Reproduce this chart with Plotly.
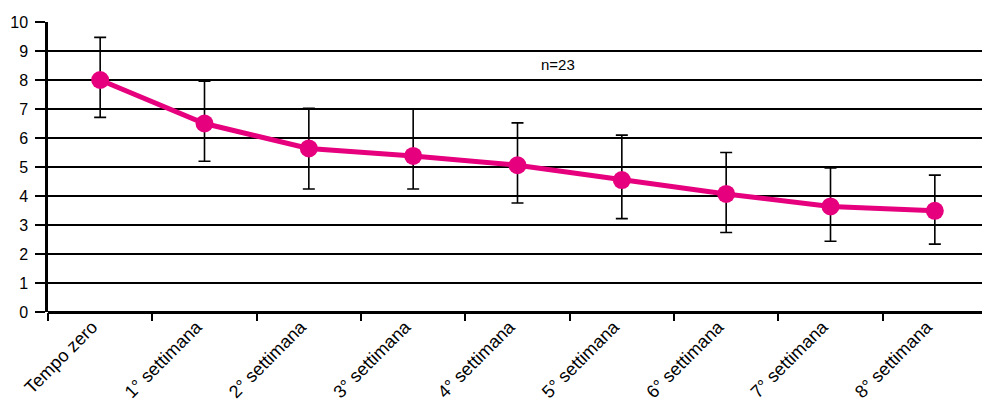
import plotly.graph_objects as go

categories = ["Tempo zero", "1° settimana", "2° settimana", "3° settimana", "4° settimana",
              "5° settimana", "6° settimana", "7° settimana", "8° settimana"]
means = [8.0, 6.5, 5.64, 5.38, 5.06, 4.55, 4.07, 3.64, 3.49]
upper = [9.47, 7.96, 7.02, 7.0, 6.52, 6.1, 5.5, 4.97, 4.72]
lower = [6.71, 5.2, 4.24, 4.24, 3.76, 3.22, 2.74, 2.44, 2.34]
y_ticks = list(range(0, 11))

err_plus = [u - m for u, m in zip(upper, means)]
err_minus = [m - l for m, l in zip(means, lower)]

fig = go.Figure()
fig.add_trace(go.Scatter(
    x=categories, y=means, mode="lines+markers",
    line=dict(color="#E6007E", width=5),
    marker=dict(color="#E6007E", size=18),
    error_y=dict(type="data", symmetric=False, array=err_plus, arrayminus=err_minus,
                 color="black", thickness=1.6, width=6),
    cliponaxis=False,
))

fig.add_annotation(x=4.39, y=8.54, xref="x", yref="y", text="n=23", showarrow=False,
                   font=dict(family="Liberation Sans, Arial", size=15, color="black"))

# page body has an 8px default margin; compensate so the plot area lands where the reference has it
fig.update_layout(
    width=990, height=401,
    margin=dict(l=40, r=11, t=14, b=97),
    paper_bgcolor="white", plot_bgcolor="white",
    showlegend=False,
    font=dict(family="Liberation Sans, Arial", size=14, color="black"),
)
fig.update_xaxes(
    type="category", range=[-0.5, 8.5], automargin=False,
    tickangle=-45, tickson="boundaries",
    ticks="outside", ticklen=8, tickwidth=2, tickcolor="black",
    showline=False, showgrid=False, zeroline=False,
    ticklabelshift=-8,
    tickfont=dict(size=18),
)
fig.update_yaxes(
    range=[0, 10], tickvals=y_ticks, automargin=False,
    ticks="outside", ticklen=10, tickwidth=2, tickcolor="black",
    showgrid=True, gridcolor="black", gridwidth=2,
    showline=True, linecolor="black", linewidth=2.5,
    zeroline=True, zerolinecolor="black", zerolinewidth=2.5,
    ticklabelstandoff=4,
    tickfont=dict(size=16),
)

fig.write_html("out.html")
